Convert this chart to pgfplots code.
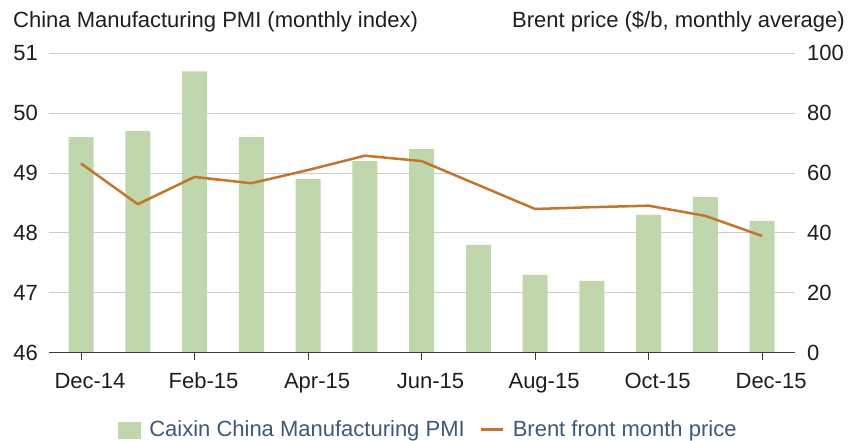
\documentclass[border=0pt]{standalone}
\usepackage{fontspec}
\setmainfont{Liberation Sans}
\usepackage{pgfplots}
\usepackage{pgfplotstable}
\pgfplotsset{compat=1.18}

\definecolor{pmigreen}{RGB}{192,215,174}
\definecolor{brent}{RGB}{193,117,45}
\definecolor{gridgray}{RGB}{204,204,204}
\definecolor{axisgray}{RGB}{60,60,60}
\definecolor{txt}{RGB}{30,30,30}
\definecolor{legtxt}{RGB}{62,88,120}

% month index, Caixin PMI, Brent ($/b)
\pgfplotstableread{
idx pmi brent
0  49.6 63.2
1  49.7 49.6
2  50.7 58.7
3  49.6 56.6
4  48.9 61.0
5  49.2 65.8
6  49.4 64.0
7  47.8 56.0
8  47.3 48.0
9  47.2 48.6
10 48.3 49.1
11 48.6 45.7
12 48.2 39.0
}\datatable

\pgfplotsset{
  base/.style={
    at={(49pt,88.3pt)}, anchor=south west,
    scale only axis, width=746pt, height=299.4pt,
    xmin=-0.564, xmax=12.58,
    /pgf/number format/assume math mode=true,
    tick label style={font=\fontsize{22}{26}\selectfont, text=txt},
    tick align=outside, major tick length=7pt,
    clip=false,
  },
}

\begin{document}
\fontsize{22}{26}\selectfont
\begin{tikzpicture}
\useasboundingbox (0pt,0pt) rectangle (849pt,441pt);

\begin{axis}[base,
  ymin=46, ymax=51, ytick={46,...,51},
  xtick=\empty,
  axis x line=none, axis y line*=left,
  y axis line style={draw=none},
  ytick style={draw=none},
  yticklabel style={anchor=east, inner sep=0pt, xshift=-4pt},
  ymajorgrids, grid style={gridgray, line width=1pt},
]
\addplot[ybar, bar width=25pt, bar shift=0pt, fill=pmigreen, draw=none]
  table[x=idx, y=pmi] {\datatable};
\end{axis}

\begin{axis}[base,
  ymin=0, ymax=100, ytick={0,20,...,100},
  xtick={0,2,...,12},
  xticklabels={Dec-14,Feb-15,Apr-15,Jun-15,Aug-15,Oct-15,Dec-15},
  axis x line*=bottom, axis y line*=right,
  x axis line style={axisgray, line width=1.3pt, -},
  y axis line style={draw=none},
  xtick style={axisgray, line width=1pt},
  ytick style={draw=none},
  yticklabel style={anchor=west, inner sep=0pt, xshift=5pt},
  xticklabel style={anchor=north, inner sep=0pt, yshift=-13pt, xshift=9pt},
  legend style={at={(0.507,-0.258)}, anchor=center, draw=none, fill=none,
    legend columns=2, font=\fontsize{22}{26}\selectfont, text=legtxt,
    /tikz/every even column/.append style={column sep=15pt},
    nodes={inner sep=0pt}},
]
\addlegendimage{legend image code/.code={
  \fill[pmigreen] (0pt,-8pt) rectangle (22pt,8pt);}}
\addlegendentry{\hspace{9pt}Caixin China Manufacturing PMI}
\addplot[brent, line width=2.5pt, mark=none, line join=round,
  legend image code/.code={\draw[brent, line width=3pt] (0pt,0pt) -- (22pt,0pt);}]
  table[x=idx, y=brent] {\datatable};
\addlegendentry{\hspace{8pt}Brent front month price}
\end{axis}

\node[anchor=base west, inner sep=0pt, text=txt] at (13pt,413pt)
  {China Manufacturing PMI (monthly index)};
\node[anchor=base east, inner sep=0pt, text=txt] at (845pt,413pt)
  {Brent price (\$/b, monthly average)};
\end{tikzpicture}
\end{document}
